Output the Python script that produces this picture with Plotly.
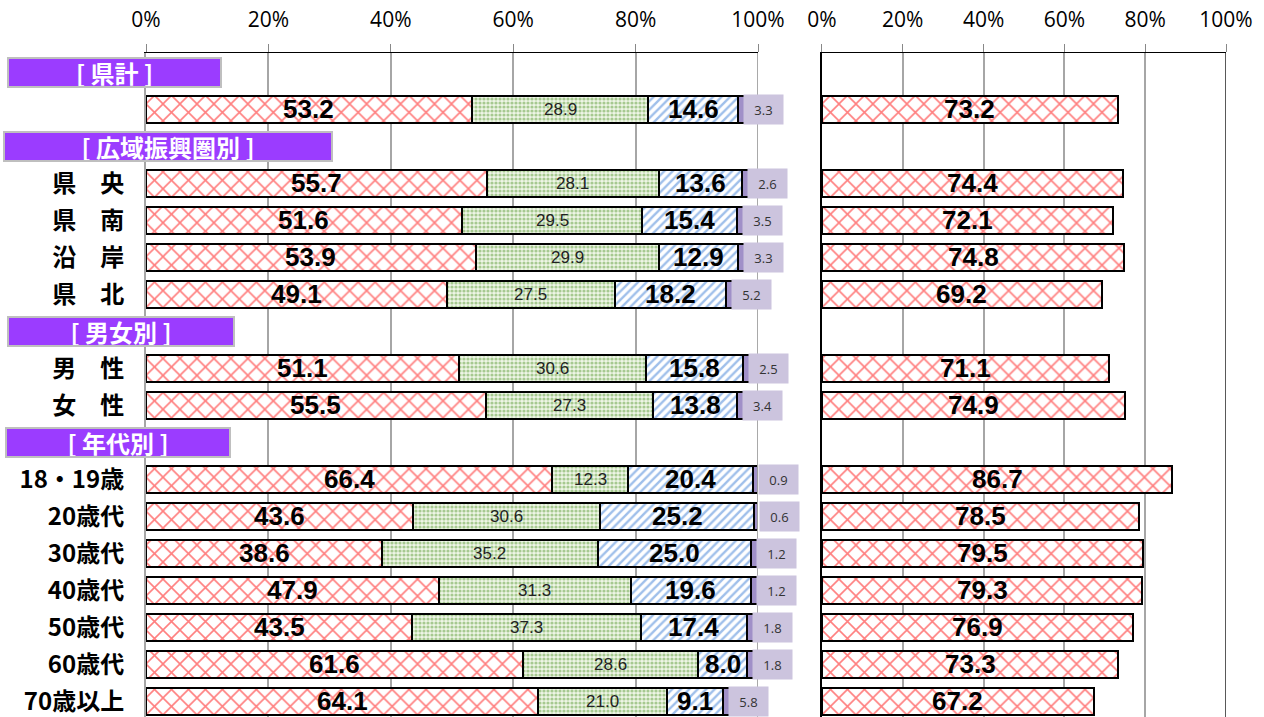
import plotly.graph_objects as go

# section headers and the rows that sit under each of them
sections = ["[ 県計 ]", "[ 広域振興圏別 ]", "[ 男女別 ]", "[ 年代別 ]"]
section_rows = [
    ["県計"],
    ["県　央", "県　南", "沿　岸", "県　北"],
    ["男　性", "女　性"],
    ["18・19歳", "20歳代", "30歳代", "40歳代", "50歳代", "60歳代", "70歳以上"],
]

# stacked shares (left chart), in row order
share_1 = [53.2, 55.7, 51.6, 53.9, 49.1, 51.1, 55.5, 66.4, 43.6, 38.6, 47.9, 43.5, 61.6, 64.1]
share_2 = [28.9, 28.1, 29.5, 29.9, 27.5, 30.6, 27.3, 12.3, 30.6, 35.2, 31.3, 37.3, 28.6, 21.0]
share_3 = [14.6, 13.6, 15.4, 12.9, 18.2, 15.8, 13.8, 20.4, 25.2, 25.0, 19.6, 17.4, 8.0, 9.1]
share_4 = [3.3, 2.6, 3.5, 3.3, 5.2, 2.5, 3.4, 0.9, 0.6, 1.2, 1.2, 1.8, 1.8, 5.8]

# single share (right chart)
share_right = [73.2, 74.4, 72.1, 74.8, 69.2, 71.1, 74.9, 86.7, 78.5, 79.5, 79.3, 76.9, 73.3, 67.2]

x_ticks = [0, 20, 40, 60, 80, 100]

RED = "#FF0000"
GREEN = "#5E9E3A"
BLUE = "#3F7FD6"
PURPLE = "#A090C8"
LAVENDER = "#CCC4DE"
HEADER = "#9B3CFF"
GRID = "#A6A6A6"
NUM_FONT = "Liberation Sans"
JP_FONT = "Noto Sans CJK JP"

# lay out rows: header line, then its members
header_y, row_y, row_labels = [], [], []
pos = 0
for head, members in zip(sections, section_rows):
    header_y.append(pos)
    pos += 1
    for m in members:
        row_y.append(pos)
        row_labels.append("" if m == "県計" else m)
        pos += 1

fig = go.Figure()

outline = dict(color="black", width=2)
cross = dict(shape="x", fgcolor=RED, bgcolor="white", size=12, solidity=0.25)
fig.add_trace(go.Bar(
    x=share_1, y=row_y, orientation="h", width=0.73, name="1",
    marker=dict(color="white", line=outline, pattern=cross),
))
fig.add_trace(go.Bar(
    x=share_2, y=row_y, orientation="h", width=0.73, name="2",
    marker=dict(color="#EEF5E6", line=outline,
                pattern=dict(shape=".", fgcolor=GREEN, bgcolor="#EEF5E6", size=4, solidity=0.5)),
))
fig.add_trace(go.Bar(
    x=share_3, y=row_y, orientation="h", width=0.73, name="3",
    marker=dict(color="white", line=outline,
                pattern=dict(shape="/", fgcolor=BLUE, bgcolor="white", size=6, solidity=0.4)),
))
fig.add_trace(go.Bar(
    x=share_4, y=row_y, orientation="h", width=0.73, name="4",
    marker=dict(color=PURPLE, line=outline),
))

fig.add_trace(go.Bar(
    x=share_right, y=row_y, orientation="h", width=0.73, name="right",
    xaxis="x2", yaxis="y2",
    marker=dict(color="white", line=outline, pattern=cross),
))

annotations = []
big = dict(family=NUM_FONT, size=26, color="black", weight="bold")
small = dict(family=NUM_FONT, size=17, color="#222222")
for y, a, b, c, d, r in zip(row_y, share_1, share_2, share_3, share_4, share_right):
    annotations.append(dict(x=a / 2, y=y, xref="x", yref="y", text=f"{a:.1f}",
                            showarrow=False, xanchor="center", font=big))
    annotations.append(dict(x=a + b / 2, y=y, xref="x", yref="y", text=f"{b:.1f}",
                            showarrow=False, xanchor="center", font=small))
    annotations.append(dict(x=a + b + c / 2, y=y, xref="x", yref="y", text=f"{c:.1f}",
                            showarrow=False, xanchor="center", font=big))
    annotations.append(dict(x=a + b + c, y=y, xref="x", yref="y", text=f"{d:.1f}",
                            showarrow=False, xanchor="left", xshift=5,
                            width=37, height=27, bgcolor=LAVENDER,
                            font=dict(family="Open Sans", size=13, color="#333333")))
    annotations.append(dict(x=r / 2, y=y, xref="x2", yref="y2", text=f"{r:.1f}",
                            showarrow=False, xanchor="center", font=big))

# purple section header boxes (centre in paper coords, pixel width)
header_boxes = [(-0.0292, 211), (0.0204, 326), (-0.0231, 224), (-0.0259, 222)]
for head, y, (cx, w) in zip(sections, header_y, header_boxes):
    annotations.append(dict(x=cx, y=y, xref="paper", yref="y", text=head,
                            showarrow=False, xanchor="center", width=w, height=27,
                            borderpad=0, bgcolor=HEADER, bordercolor="#BFBFBF", borderwidth=2,
                            font=dict(family=JP_FONT, size=24, color="white", weight="bold")))

y_range = [17.43, -0.527]
x_common = dict(
    range=[0, 100], side="top", tickvals=x_ticks, ticktext=[f"{t}%" for t in x_ticks],
    showgrid=True, gridcolor=GRID, gridwidth=2, zeroline=False,
    showline=True, linecolor="black", linewidth=1, mirror=False,
    ticks="outside", ticklen=8, tickcolor="#888888", tickwidth=1,
    ticklabelstandoff=9,
    tickfont=dict(family="Open Sans", size=21, color="black"),
    fixedrange=True,
)

fig.update_layout(
    width=1264, height=717,
    margin=dict(l=146, r=38, t=53, b=0),
    paper_bgcolor="white", plot_bgcolor="white",
    barmode="stack", bargap=0, showlegend=False,
    xaxis=dict(domain=[0, 0.5667], anchor="y", **x_common),
    xaxis2=dict(domain=[0.6259, 1.0], anchor="y2", **x_common),
    yaxis=dict(range=y_range, tickvals=row_y, ticktext=row_labels, ticks="",
               ticklabelstandoff=15, showgrid=False, zeroline=False,
               showline=True, linecolor=GRID, linewidth=2,
               tickfont=dict(family=JP_FONT, size=24, color="black", weight="bold")),
    yaxis2=dict(range=y_range, anchor="x2", showticklabels=False, ticks="",
                showgrid=False, zeroline=False, showline=True, linecolor="black", linewidth=2),
    annotations=annotations,
    shapes=[
        dict(type="line", xref="x", yref="paper", x0=100, x1=100, y0=0, y1=1,
             line=dict(color=GRID, width=2)),
        dict(type="line", xref="x2", yref="paper", x0=100, x1=100, y0=0, y1=1,
             line=dict(color="#595959", width=2)),
    ],
)

# drop the browser's default page margin so the figure sits at the window corner
fig.write_html("out.html", config={"displayModeBar": False},
               post_script="document.body.style.margin='0';")
